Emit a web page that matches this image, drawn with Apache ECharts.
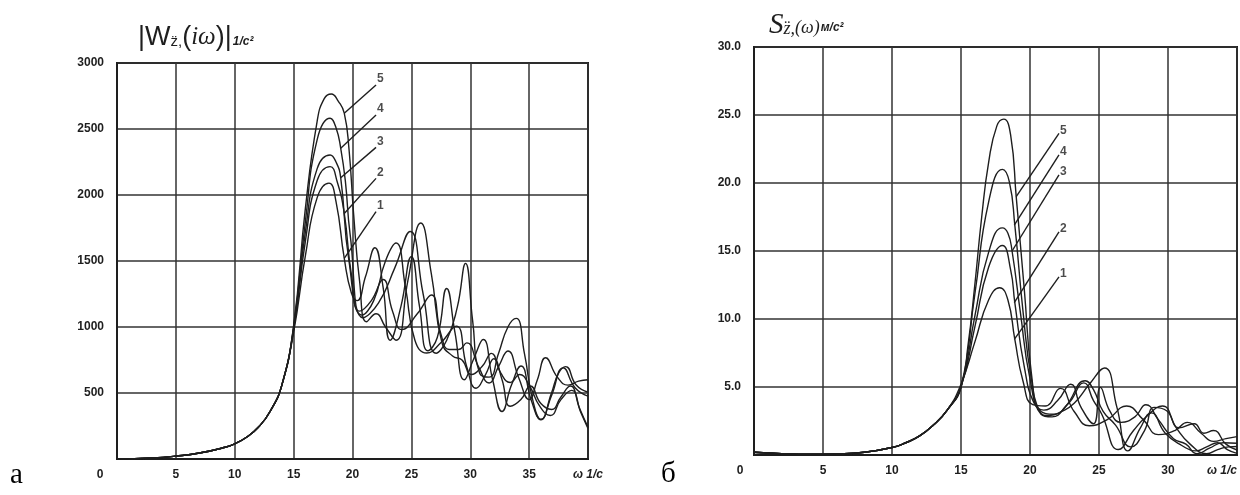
<!DOCTYPE html>
<html>
<head>
<meta charset="utf-8">
<script src="https://cdn.jsdelivr.net/npm/echarts@6/dist/echarts.min.js"></script>
<style>
  html, body { margin: 0; padding: 0; background: #fff; }
  #chart { width: 1240px; height: 495px; }
</style>
</head>
<body>
<div id="chart"></div>
<script>
// а) |W(iω)| — shared rising part, then curves 1..5
var wRise = [[0,0],[3,8],[5,22],[7,45],[9,85],[10,115],[11,165],[12,240],[13,360],[14,560]];
var w1 = [[15,960],[16,1540],[17,1980],[18.0,2090],[18.6,1950],[19.3,1520],[19.9,1260],[20.4,1200],[21.1,1380],[21.9,1600],[22.6,1300],[23.2,900],[24.1,1150],[25.0,1533],[25.7,1150],[26.4,820],[27.2,920],[28.0,1292],[28.7,960],[29.5,600],[30.3,760],[31.1,905],[31.9,600],[32.7,360],[33.5,560],[34.3,705],[35.2,440],[36.0,300],[36.9,480],[37.9,690],[38.9,540],[40,476]];
var w2 = [[15,980],[16,1650],[17,2110],[18.1,2215],[18.7,2100],[19.3,1860],[19.9,1400],[20.6,1120],[21.6,1200],[22.6,1360],[23.4,1120],[24.2,980],[25.5,1100],[26.7,1242],[27.5,950],[28.2,830],[29.0,830],[29.7,880],[30.7,700],[31.6,576],[32.4,700],[33.2,818],[34.1,620],[35.0,450],[35.7,600],[36.4,767],[37.4,620],[38.3,560],[39.2,590],[40,600]];
var w3 = [[15,990],[16,1720],[17,2200],[18.1,2303],[18.6,2250],[19.0,2130],[19.7,1500],[20.8,1090],[21.8,1200],[22.8,1500],[23.7,1636],[24.5,1300],[25.3,900],[26.3,803],[27.5,880],[28.8,1007],[29.7,700],[30.5,536],[31.3,640],[32.0,760],[32.7,600],[33.4,400],[34.3,450],[35.1,553],[36.0,420],[36.9,375],[37.7,470],[38.5,553],[39.3,380],[40,240]];
var w4 = [[15,1000],[16,1800],[17,2420],[18.1,2581],[18.6,2510],[19.0,2354],[19.4,2100],[19.8,1700],[20.9,1070],[22.2,1180],[23.6,1450],[24.9,1724],[26.0,1250],[27.1,801],[28.0,900],[28.9,1150],[29.6,1482],[30.2,1050],[30.8,650],[31.6,620],[32.4,800],[33.2,1000],[33.9,1065],[34.6,800],[35.3,450],[36.0,297],[36.9,500],[37.5,650],[38.1,700],[39,560],[40,506]];
var w5 = [[15,1010],[16,1900],[17,2560],[17.6,2730],[18.2,2765],[18.8,2710],[19.3,2620],[19.7,2350],[20.1,1850],[20.6,1350],[21.2,1040],[22.0,1100],[22.8,1000],[23.7,900],[24.7,1350],[25.8,1788],[26.7,1400],[27.6,880],[28.5,780],[29.3,750],[30.1,640],[31.0,700],[31.8,800],[32.6,650],[33.4,580],[34.2,640],[35.0,560],[35.9,400],[36.8,330],[37.7,450],[38.6,520],[39.4,350],[40,232]];
var wLeaders = [['1',[19.3,1520],[22.0,1874]],['2',[19.3,1860],[22.0,2126]],['3',[19.0,2130],[22.0,2361]],['4',[19.0,2354],[22.0,2606]],['5',[19.3,2620],[22.0,2833]]];

// б) S(ω)
var sRise = [[0,0.2],[2,0.1],[4,0.05],[6,0.08],[8,0.2],[10,0.55],[11,0.9],[12,1.4],[13,2.2],[14,3.3]];
var s1 = [[15,5.2],[16,8.3],[17,11.4],[17.8,12.3],[18.4,11.4],[18.9,8.5],[19.5,5.4],[20.2,3.7],[21.1,3.6],[22.2,4.9],[23.2,3.2],[24.3,2.15],[25.6,2.6],[27.0,3.6],[28.2,2.6],[29.3,1.5],[30.5,1.8],[31.4,2.4],[32.4,1.6],[33.3,1.0],[34.2,1.2],[35,1.35]];
var s2 = [[15,5.0],[16,9.4],[17,13.8],[18.0,15.4],[18.6,13.6],[18.9,11.2],[19.6,6.4],[20.3,3.8],[21.0,3.3],[22.0,4.0],[22.95,5.2],[23.7,3.5],[24.6,2.3],[25.1,4.97],[25.8,3.2],[26.6,2.4],[27.6,2.8],[28.4,3.7],[29.3,2.6],[30.4,1.2],[31.3,0.8],[32.1,0.1],[33.0,0.5],[34.0,0.9],[35,0.86]];
var s3 = [[15,5.0],[16,10.2],[17,14.9],[18.0,16.7],[18.4,16.3],[18.7,15.0],[19.3,10.5],[20.0,5.6],[20.8,3.2],[21.7,3.0],[22.8,3.8],[23.9,5.3],[24.6,4.0],[25.2,3.0],[26.4,0.4],[27.5,1.8],[28.4,2.8],[29.6,3.6],[30.6,2.0],[31.6,0.8],[32.8,0.1],[33.6,0.4],[34.4,0.6],[35,0.62]];
var s4 = [[15,5.0],[16,11.8],[17,18.6],[18.0,21.0],[18.5,20.1],[18.9,16.9],[19.5,10.5],[20.1,5.6],[20.8,3.0],[21.6,2.8],[22.6,3.6],[24.0,5.46],[24.6,4.8],[25.3,3.2],[26.2,2.2],[27.3,0.6],[28.3,1.8],[29.0,3.5],[29.9,3.25],[30.8,2.0],[31.9,2.3],[32.6,1.6],[33.3,1.8],[34.2,0.8],[35,0.37]];
var s5 = [[15,5.0],[15.5,8],[16,12.5],[16.5,17.5],[17,21.5],[17.6,24.2],[18.1,24.7],[18.6,23.5],[19.0,19.0],[19.6,12],[20.1,6],[20.7,3.2],[21.4,2.9],[22.3,3.2],[23.2,3.8],[24.3,5.2],[25.4,6.4],[26.3,3.5],[27.1,0.3],[28.0,2.0],[28.8,3.1],[29.8,1.6],[31.0,0.7],[32.0,0.3],[32.8,0.6],[33.6,0.9],[34.3,0.4],[35,0.12]];
var sLeaders = [['1',[18.86,8.5],[22.1,13.1]],['2',[18.86,11.2],[22.1,16.4]],['3',[18.7,15.0],[22.1,20.6]],['4',[18.86,16.9],[22.1,22.06]],['5',[19.0,19.0],[22.1,23.65]]];

var ink = '#1e1e1e';
var labelFont = { color: ink, fontSize: 12, fontWeight: 'bold', fontFamily: 'Liberation Sans' };

function curve(xi, yi, data, leaders) {
  var s = {
    type: 'line', xAxisIndex: xi, yAxisIndex: yi,
    data: data, smooth: 0.5, showSymbol: false, silent: true,
    lineStyle: { color: ink, width: 1.4 }
  };
  if (leaders) {
    s.markLine = {
      silent: true, symbol: 'none', animation: false,
      lineStyle: { color: ink, width: 1.4, type: 'solid' },
      label: { show: false },
      data: leaders.map(function (l) {
        return [{ coord: l[1] }, { coord: l[2] }];
      })
    };
  }
  return s;
}

// curve numbers next to the upper end of each leader line
function numbers(xi, yi, leaders, dy) {
  return {
    type: 'scatter', xAxisIndex: xi, yAxisIndex: yi, symbolSize: 0, silent: true,
    data: leaders.map(function (l) { return { name: l[0], value: l[2] }; }),
    label: Object.assign({ show: true, position: 'right', distance: 1, offset: [0, dy], formatter: '{b}' }, labelFont)
  };
}

function xAxis(gi, max, zeroPad, alignMax) {
  return {
    type: 'value', gridIndex: gi, min: 0, max: max, interval: 5,
    axisLine: { lineStyle: { color: ink, width: 2 } },
    axisTick: { show: false },
    splitLine: { lineStyle: { color: '#333', width: 1.5 } },
    axisLabel: Object.assign({
      margin: 10, alignMaxLabel: alignMax,
      formatter: function (v) {
        if (v === 0) return '{z|0}';
        if (v === max) return '{w|ω 1/c}';
        return v;
      },
      rich: {
        z: Object.assign({ padding: [0, zeroPad, 0, 0] }, labelFont),
        w: { color: ink, fontSize: 12, fontWeight: 'bold', fontStyle: 'italic', fontFamily: 'Liberation Sans' }
      }
    }, labelFont)
  };
}

function yAxis(gi, max, interval, fmt) {
  return {
    type: 'value', gridIndex: gi, min: 0, max: max, interval: interval,
    axisLine: { show: true, lineStyle: { color: ink, width: 2 } },
    axisTick: { show: false },
    splitLine: { lineStyle: { color: '#333', width: 1.5 } },
    axisLabel: Object.assign({ margin: 13, showMinLabel: false, formatter: fmt }, labelFont)
  };
}

var chart = echarts.init(document.getElementById('chart'), null, { renderer: 'canvas' });
chart.setOption({
  backgroundColor: '#fff',
  animation: false,
  title: [
    {
      left: 133, top: 19,
      text: '{b||W}{s|z̈,}{b|(}{i|iω}{b|)|}{u|1/c²}',
      textStyle: {
        fontWeight: 'normal',
        rich: {
          b: { fontSize: 27, color: ink, fontWeight: 'normal', fontFamily: 'Liberation Sans' },
          s: { fontSize: 15, color: ink, fontWeight: 'normal', fontFamily: 'Liberation Sans', padding: [9, 0, 0, 0] },
          i: { fontSize: 25, color: ink, fontStyle: 'italic', fontWeight: 'normal', fontFamily: 'Liberation Serif' },
          u: { fontSize: 12, color: ink, fontWeight: 'bold', fontStyle: 'italic', fontFamily: 'Liberation Sans', padding: [8, 0, 0, 1] }
        }
      }
    },
    {
      left: 764, top: 6,
      text: '{S|S}{s|z̈,}{p|(ω)}{u|м/c²}',
      textStyle: {
        fontWeight: 'normal',
        rich: {
          S: { fontSize: 29, color: ink, fontStyle: 'italic', fontWeight: 'normal', fontFamily: 'Liberation Serif' },
          s: { fontSize: 18, color: ink, fontStyle: 'italic', fontWeight: 'normal', fontFamily: 'Liberation Serif', padding: [7, 0, 0, 0] },
          p: { fontSize: 18, color: ink, fontStyle: 'italic', fontWeight: 'normal', fontFamily: 'Liberation Serif', padding: [5, 0, 0, 0] },
          u: { fontSize: 12, color: ink, fontWeight: 'bold', fontStyle: 'italic', fontFamily: 'Liberation Sans', padding: [5, 0, 0, 1] }
        }
      }
    },
    { left: 5, top: 456, text: 'а', textStyle: { fontSize: 29, fontWeight: 'normal', color: '#000', fontFamily: 'Liberation Serif' } },
    { left: 656, top: 455, text: 'б', textStyle: { fontSize: 29, fontWeight: 'normal', color: '#000', fontFamily: 'Liberation Serif' } }
  ],
  grid: [
    { left: 117, top: 63, width: 471, height: 396, show: true, borderColor: ink, borderWidth: 2 },
    { left: 754, top: 47, width: 485, height: 408, show: true, borderColor: ink, borderWidth: 2 }
  ],
  xAxis: [xAxis(0, 40, 34, 'center'), xAxis(1, 35, 28, 'right')],
  yAxis: [
    yAxis(0, 3000, 500, function (v) { return v; }),
    yAxis(1, 30, 5, function (v) { return v.toFixed(1); })
  ],
  series: [
    curve(0, 0, wRise.concat(w1), wLeaders),
    curve(0, 0, wRise.concat(w2)),
    curve(0, 0, wRise.concat(w3)),
    curve(0, 0, wRise.concat(w4)),
    curve(0, 0, wRise.concat(w5)),
    numbers(0, 0, wLeaders, -6),
    curve(1, 1, sRise.concat(s1), sLeaders),
    curve(1, 1, sRise.concat(s2)),
    curve(1, 1, sRise.concat(s3)),
    curve(1, 1, sRise.concat(s4)),
    curve(1, 1, sRise.concat(s5)),
    numbers(1, 1, sLeaders, -3)
  ]
});
</script>
</body>
</html>
